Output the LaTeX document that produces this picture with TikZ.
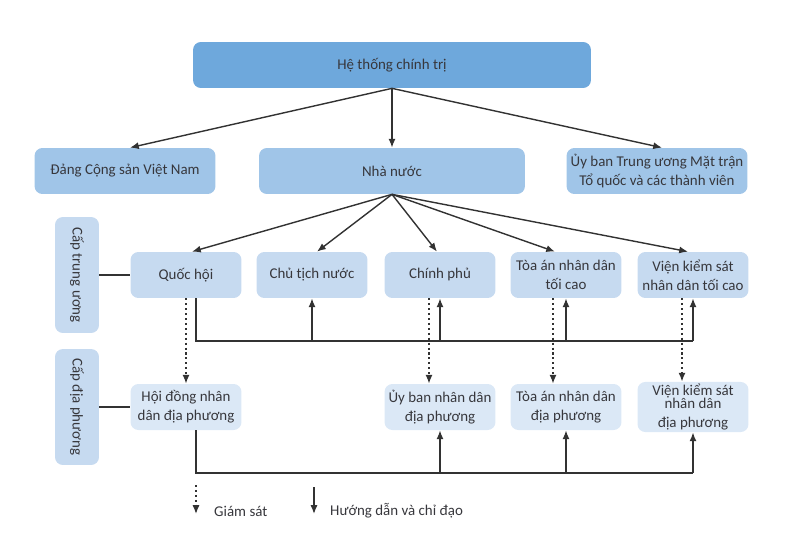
\documentclass[tikz,border=0pt]{standalone}
\usepackage{fontspec}
\setmainfont{Carlito}
\usepackage{tikz}
\usetikzlibrary{arrows.meta,positioning}
\definecolor{topblue}{RGB}{110,168,220}
\definecolor{midblue}{RGB}{160,197,232}
\definecolor{rowblue}{RGB}{198,218,240}
\definecolor{lowblue}{RGB}{219,232,246}
\definecolor{txtgray}{RGB}{55,55,60}
\definecolor{linegray}{RGB}{50,50,50}

\begin{document}
\begin{tikzpicture}[
    x=0.02cm, y=-0.02cm,
    font=\fontsize{8.5}{11}\selectfont,
    box/.style={rectangle, rounded corners=4.5pt, align=center, inner sep=1pt, minimum height=0.92cm, text=txtgray},
    topbox/.style={box, fill=topblue, minimum width=7.96cm},
    mainbox/.style={box, fill=midblue, minimum width=3.62cm},
    organ/.style={box, fill=rowblue, minimum width=2.22cm},
    localorgan/.style={box, fill=lowblue, minimum width=2.22cm},
    levelbox/.style={box, fill=rowblue, rotate=-90, minimum width=2.32cm, minimum height=0.88cm},
    arr/.style={-{Latex[length=5pt,width=4pt]}, line width=0.8pt, draw=linegray},
    dotarr/.style={arr, dash pattern=on 1.2pt off 1.6pt},
    link/.style={line width=0.8pt, draw=linegray}
]
    \useasboundingbox (0,0) rectangle (801,551);

    % top level
    \node[topbox] (hethong) at (392,65) {Hệ thống chính trị};
    \node[mainbox] (dang) at (125,171) {Đảng Cộng sản Việt Nam};
    \node[mainbox, minimum width=5.32cm] (nhanuoc) at (392,171) {Nhà nước};
    \node[mainbox] (mattran) at (657,171) {Ủy ban Trung ương Mặt trận\\Tổ quốc và các thành viên};

    \draw[arr] (hethong.south) -- ([xshift=0.1cm]dang.north);
    \draw[arr] (hethong.south) -- (nhanuoc.north);
    \draw[arr] (hethong.south) -- ([xshift=0.1cm]mattran.north);

    % cap trung uong
    \node[levelbox] (tw) at (77,275) {Cấp trung ương};
    \node[organ] (qh) at (186,275) {Quốc hội};
    \node[organ] (ctn) at (312,275) {Chủ tịch nước};
    \node[organ] (cp) at (440,275) {Chính phủ};
    \node[organ] (ta) at (566,275) {Tòa án nhân dân\\tối cao};
    \node[organ] (vks) at (693,275) {Viện kiểm sát\\nhân dân tối cao};

    \draw[link] (tw) -- (qh);
    \draw[arr] (nhanuoc.south) -- ([xshift=0.12cm]qh.north);
    \draw[arr] (nhanuoc.south) -- ([xshift=0.1cm]ctn.north);
    \draw[arr] (nhanuoc.south) -- ([xshift=-0.06cm]cp.north);
    \draw[arr] (nhanuoc.south) -- ([xshift=-0.22cm]ta.north);
    \draw[arr] (nhanuoc.south) -- ([xshift=-0.1cm]vks.north);

    \coordinate (bus1) at (0,341);
    \draw[link] ([xshift=0.2cm]qh.south) |- (vks.south |- bus1);
    \foreach \n in {ctn,cp,ta,vks}
        \draw[arr] (\n.south |- bus1) -- (\n.south);

    % cap dia phuong
    \node[levelbox] (dp) at (77,407) {Cấp địa phương};
    \node[localorgan] (hd) at (186,407) {Hội đồng nhân\\dân địa phương};
    \node[localorgan] (ub) at (440,407) {Ủy ban nhân dân\\địa phương};
    \node[localorgan] (tadp) at (566,407) {Tòa án nhân dân\\địa phương};
    \node[localorgan] (vksdp) at (693,407) {Viện kiểm sát\\[-3.5pt]nhân dân\\địa phương};

    \draw[link] (dp) -- (hd);
    \draw[dotarr] (qh.south) -- (hd.north);
    \draw[dotarr] ([xshift=-0.22cm]cp.south) -- ([xshift=-0.22cm]ub.north);
    \draw[dotarr] ([xshift=-0.26cm]ta.south) -- ([xshift=-0.26cm]tadp.north);
    \draw[dotarr] ([xshift=-0.22cm]vks.south) -- ([xshift=-0.22cm]vksdp.north);

    \coordinate (bus2) at (0,473);
    \draw[link] ([xshift=0.2cm]hd.south) |- (vksdp.south |- bus2);
    \foreach \n in {ub,tadp,vksdp}
        \draw[arr] (\n.south |- bus2) -- (\n.south);

    % legend
    \coordinate (gsTop) at (196,485);
    \coordinate (gsEnd) at (196,514);
    \node[anchor=west, text=txtgray] (giamsat) at (208,511) {Giám sát};
    \draw[dotarr] (gsTop) -- (gsEnd);
    \coordinate (hdTop) at (314,487);
    \coordinate (hdEnd) at (314,514);
    \node[anchor=west, text=txtgray] (huongdan) at (324,511) {Hướng dẫn và chỉ đạo};
    \draw[arr] (hdTop) -- (hdEnd);
\end{tikzpicture}
\end{document}
